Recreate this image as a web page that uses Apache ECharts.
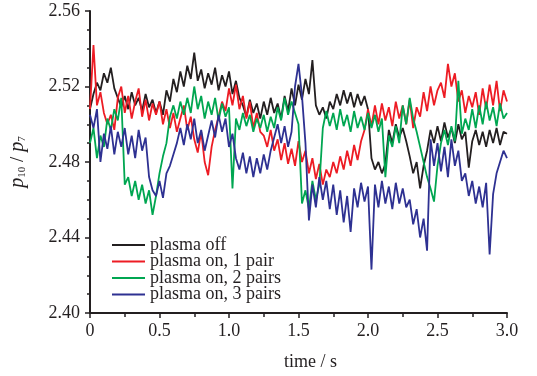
<!DOCTYPE html>
<html>
<head>
<meta charset="utf-8">
<script src="https://cdn.jsdelivr.net/npm/echarts@6/dist/echarts.min.js"></script>
<style>html,body{margin:0;padding:0;background:#fff}#c{width:537px;height:376px}</style>
</head>
<body>
<div id="c"></div>
<script>
const seriesNames = ['plasma off', 'plasma on, 1 pair', 'plasma on, 2 pairs', 'plasma on, 3 pairs'];
const timeStep = 0.025;
const plasmaOff = [
2.508,2.516,2.522,2.518,2.527,2.522,2.530,2.519,2.514,2.509,
2.515,2.508,2.517,2.510,2.514,2.507,2.516,2.509,2.513,2.506,
2.512,2.505,2.518,2.512,2.524,2.517,2.528,2.520,2.531,2.524,
2.538,2.523,2.529,2.519,2.527,2.521,2.530,2.518,2.526,2.520,
2.528,2.516,2.523,2.514,2.510,2.504,2.513,2.506,2.511,2.503,
2.512,2.505,2.514,2.506,2.511,2.503,2.515,2.507,2.519,2.510,
2.521,2.513,2.524,2.516,2.534,2.510,2.505,2.509,2.503,2.512,
2.508,2.516,2.510,2.518,2.511,2.517,2.509,2.516,2.510,2.515,
2.508,2.482,2.476,2.480,2.474,2.479,2.497,2.490,2.500,2.493,
2.498,2.491,2.483,2.474,2.480,2.466,2.478,2.486,2.497,2.490,
2.499,2.491,2.501,2.493,2.498,2.490,2.500,2.492,2.496,2.477,
2.491,2.497,2.489,2.496,2.488,2.497,2.490,2.498,2.489,2.496,2.495];
const onePair = [
2.508,2.542,2.510,2.517,2.506,2.500,2.505,2.497,2.514,2.520,
2.506,2.515,2.503,2.512,2.519,2.504,2.513,2.502,2.511,2.505,
2.512,2.500,2.508,2.498,2.506,2.496,2.503,2.510,2.497,2.504,
2.492,2.485,2.496,2.480,2.473,2.488,2.497,2.504,2.512,2.507,
2.519,2.510,2.521,2.508,2.515,2.503,2.512,2.498,2.506,2.496,
2.494,2.488,2.497,2.486,2.492,2.481,2.490,2.479,2.487,2.478,
2.491,2.480,2.486,2.474,2.482,2.471,2.479,2.468,2.476,2.472,
2.480,2.474,2.483,2.476,2.486,2.478,2.489,2.481,2.491,2.497,
2.508,2.499,2.510,2.500,2.511,2.502,2.509,2.499,2.512,2.503,
2.510,2.500,2.513,2.498,2.509,2.504,2.517,2.507,2.520,2.510,
2.518,2.522,2.514,2.532,2.520,2.527,2.512,2.518,2.506,2.515,
2.509,2.517,2.505,2.519,2.508,2.521,2.510,2.523,2.507,2.518,2.512];
const twoPairs = [
2.490,2.498,2.482,2.494,2.488,2.503,2.497,2.508,2.502,2.514,
2.468,2.472,2.462,2.470,2.460,2.468,2.458,2.465,2.452,2.462,
2.474,2.483,2.490,2.504,2.510,2.503,2.512,2.505,2.514,2.506,
2.520,2.508,2.515,2.503,2.512,2.505,2.514,2.502,2.511,2.504,
2.509,2.466,2.503,2.497,2.506,2.499,2.505,2.496,2.503,2.498,
2.505,2.496,2.504,2.498,2.509,2.502,2.514,2.505,2.512,2.506,
2.500,2.458,2.465,2.455,2.470,2.460,2.468,2.498,2.507,2.499,
2.506,2.497,2.508,2.499,2.505,2.496,2.507,2.498,2.504,2.497,
2.506,2.498,2.505,2.496,2.503,2.472,2.494,2.488,2.499,2.490,
2.510,2.500,2.514,2.503,2.496,2.488,2.480,2.472,2.466,2.459,
2.478,2.490,2.497,2.489,2.499,2.491,2.523,2.495,2.503,2.497,
2.508,2.498,2.510,2.500,2.512,2.502,2.509,2.499,2.511,2.503,2.506];
const threePairs = [
2.505,2.498,2.508,2.480,2.495,2.487,2.499,2.484,2.496,2.488,
2.498,2.484,2.494,2.482,2.497,2.486,2.493,2.472,2.465,2.462,
2.470,2.461,2.474,2.478,2.484,2.490,2.498,2.489,2.500,2.492,
2.503,2.490,2.497,2.486,2.494,2.502,2.493,2.505,2.496,2.503,
2.488,2.495,2.482,2.476,2.485,2.474,2.483,2.472,2.482,2.474,
2.484,2.476,2.486,2.493,2.500,2.490,2.499,2.488,2.496,2.520,
2.532,2.515,2.490,2.449,2.468,2.456,2.472,2.460,2.470,2.455,
2.468,2.452,2.465,2.448,2.462,2.443,2.466,2.456,2.469,2.459,
2.467,2.423,2.468,2.456,2.470,2.458,2.467,2.455,2.469,2.458,
2.466,2.456,2.460,2.447,2.455,2.440,2.450,2.433,2.492,2.478,
2.490,2.475,2.488,2.472,2.492,2.478,2.486,2.470,2.474,2.462,
2.470,2.458,2.467,2.456,2.469,2.431,2.463,2.474,2.480,2.486,2.482];
const colors = ['#231f20', '#ed1c24', '#00a651', '#2e3192'];
const xTicks = { min: 0, max: 3, interval: 0.5 };
const yTicks = { min: 2.40, max: 2.56, interval: 0.04 };

const allData = [plasmaOff, onePair, twoPairs, threePairs];
const chart = echarts.init(document.getElementById('c'), null, { renderer: 'canvas' });
const font = '"Liberation Serif", "Times New Roman", serif';
const textColor = '#231f20';
chart.setOption({
  animation: false,
  backgroundColor: '#ffffff',
  grid: { left: 89, top: 11, width: 418, height: 304, containLabel: false },
  legend: {
    orient: 'vertical', left: 112, top: 236, padding: 0,
    itemWidth: 33, itemHeight: 2, itemGap: -1.5, icon: 'rect',
    textStyle: { fontFamily: font, fontSize: 18, color: textColor },
    data: seriesNames
  },
  xAxis: {
    type: 'value', min: xTicks.min, max: xTicks.max, interval: xTicks.interval,
    name: 'time / s', nameLocation: 'middle', nameGap: 40,
    nameTextStyle: { fontFamily: font, fontSize: 18, color: textColor, padding: [0,0,0,24] },
    axisLine: { show: true, onZero: false, lineStyle: { color: '#231f20', width: 2 } },
    axisTick: { show: true, inside: false, length: 5, lineStyle: { color: '#231f20', width: 1.5 } },
    minorTick: { show: true, splitNumber: 2, length: 4, lineStyle: { color: '#231f20', width: 1.5 } },
    splitLine: { show: false },
    axisLabel: { fontFamily: font, fontSize: 18, color: textColor, margin: 9,
      formatter: v => (Math.abs(v) < 1e-9 ? '0' : v.toFixed(1)) }
  },
  yAxis: {
    type: 'value', min: yTicks.min, max: yTicks.max, interval: yTicks.interval,
    name: '{i|p}{s|10}{n| / }{i|p}{s|7}', nameLocation: 'middle', nameGap: 62, nameRotate: 90,
    nameTextStyle: {
      fontFamily: font, color: textColor,
      rich: {
        i: { fontFamily: font, fontStyle: 'italic', fontSize: 20, color: textColor },
        n: { fontFamily: font, fontSize: 19, color: textColor },
        s: { fontFamily: font, fontSize: 11, color: textColor, padding: [9, 0, 0, 0] }
      }
    },
    axisLine: { show: true, onZero: false, lineStyle: { color: '#231f20', width: 2 } },
    axisTick: { show: true, inside: false, length: 5, lineStyle: { color: '#231f20', width: 1.5 } },
    minorTick: { show: true, splitNumber: 4, length: 3, lineStyle: { color: '#231f20', width: 1.5 } },
    splitLine: { show: false },
    axisLabel: { fontFamily: font, fontSize: 18, color: textColor, margin: 10,
      formatter: v => v.toFixed(2) }
  },
  series: allData.map((arr, k) => ({
    name: seriesNames[k], type: 'line', showSymbol: false, symbol: 'none',
    color: colors[k],
    lineStyle: { color: colors[k], width: 1.8 },
    data: arr.map((v, i) => [i * timeStep, v])
  }))
});
</script>
</body>
</html>
